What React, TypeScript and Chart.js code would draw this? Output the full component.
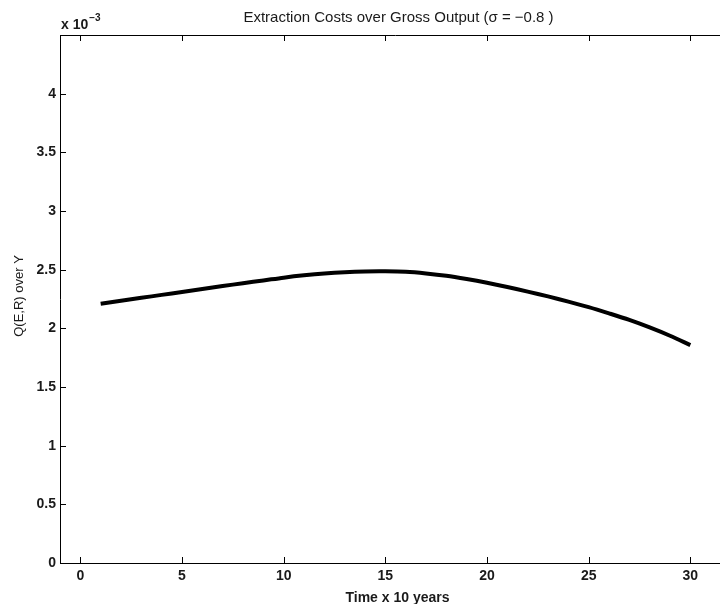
import React, { useEffect, useRef } from "react";
import { Chart, registerables } from "chart.js";

Chart.register(...registerables);

// ---- data ----
const timeSteps = [1, 2, 3, 4, 5, 6, 7, 8, 9, 10, 11, 12, 13, 14, 15, 16, 17, 18, 19, 20, 21, 22, 23, 24, 25, 26, 27, 28, 29, 30];
const costRatio = [
  2.21, 2.235, 2.26, 2.285, 2.31, 2.335, 2.36, 2.385, 2.408, 2.432,
  2.452, 2.468, 2.479, 2.485, 2.486, 2.482, 2.468, 2.448, 2.42, 2.388,
  2.352, 2.313, 2.272, 2.228, 2.181, 2.128, 2.072, 2.008, 1.937, 1.857,
];
const xTickValues = [0, 5, 10, 15, 20, 25, 30];
const yTickValues = [0, 0.5, 1, 1.5, 2, 2.5, 3, 3.5, 4, 4.5];
const yTickLabels = ["0", "0.5", "1", "1.5", "2", "2.5", "3", "3.5", "4", ""];
const titleText = "Extraction Costs over Gross Output (\u03c3 = \u22120.8 )";
const xLabel = "Time x 10 years";
const yLabel = "Q(E,R) over Y";

const FONT = "'Liberation Sans', Arial, Helvetica, sans-serif";
const TEXT = "#1a1a1a";

const decorPlugin = {
  id: "decor",
  afterDraw(chart: any) {
    const { ctx, chartArea: a, scales } = chart;
    const xs = scales.x;
    const ys = scales.y;
    ctx.save();
    ctx.strokeStyle = "#000";
    ctx.lineWidth = 1;
    ctx.beginPath();
    ctx.moveTo(a.left, Math.round(a.top) + 0.5);
    ctx.lineTo(a.right, Math.round(a.top) + 0.5);
    for (const v of xTickValues) {
      const px = Math.round(xs.getPixelForValue(v)) + 0.5;
      ctx.moveTo(px, a.bottom);
      ctx.lineTo(px, a.bottom - 6);
      ctx.moveTo(px, a.top);
      ctx.lineTo(px, a.top + 6);
    }
    for (const v of yTickValues) {
      const py = Math.round(ys.getPixelForValue(v)) + 0.5;
      ctx.moveTo(a.left, py);
      ctx.lineTo(a.left + 6, py);
    }
    ctx.stroke();

    ctx.fillStyle = TEXT;
    // title
    ctx.font = `15px ${FONT}`;
    ctx.textAlign = "center";
    ctx.textBaseline = "middle";
    ctx.fillText(titleText, (a.left + a.right) / 2 + 3, a.top - 17);
    // x label
    ctx.font = `bold 14px ${FONT}`;
    ctx.fillText(xLabel, (a.left + a.right) / 2 + 2, a.bottom + 35);
    // y label
    ctx.save();
    ctx.translate(a.left - 41, (a.top + a.bottom) / 2 - 3);
    ctx.rotate(-Math.PI / 2);
    ctx.font = `13px ${FONT}`;
    ctx.fillText(yLabel, 0, 0);
    ctx.restore();
    // exponent
    ctx.textAlign = "left";
    ctx.textBaseline = "alphabetic";
    ctx.font = `bold 14px ${FONT}`;
    ctx.fillText("x 10", a.left + 1, a.top - 6);
    const w = ctx.measureText("x 10").width;
    ctx.font = `bold 10px ${FONT}`;
    ctx.fillText("\u22123", a.left + w + 2, a.top - 14);
    ctx.restore();
  },
};

export default function App() {
  const ref = useRef<HTMLCanvasElement | null>(null);
  useEffect(() => {
    if (!ref.current) return;
    const points = timeSteps.map((t, i) => ({ x: t, y: costRatio[i] }));
    const chart = new Chart(ref.current, {
      type: "line",
      data: {
        datasets: [
          {
            data: points,
            borderColor: "#000",
            borderWidth: 4,
            pointRadius: 0,
            tension: 0.3,
            fill: false,
          },
        ],
      },
      options: {
        animation: false,
        responsive: false,
        devicePixelRatio: 1,
        layout: { padding: { top: 35, right: 29, left: 0, bottom: 0 } },
        plugins: { legend: { display: false }, tooltip: { enabled: false }, title: { display: false } },
        scales: {
          x: {
            type: "linear",
            min: -1,
            max: 32,
            afterBuildTicks: (s: any) => {
              s.ticks = xTickValues.map((v) => ({ value: v }));
            },
            afterFit: (s: any) => {
              s.height = 41;
            },
            grid: { display: false, drawTicks: false },
            border: { display: true, color: "#000", width: 1 },
            ticks: {
              padding: 5,
              maxRotation: 0,
              autoSkip: false,
              color: TEXT,
              font: { family: FONT, size: 14, weight: "bold" },
              callback: (v: any) => String(v),
            },
          },
          y: {
            type: "linear",
            min: 0,
            max: 4.5,
            afterBuildTicks: (s: any) => {
              s.ticks = yTickValues.map((v) => ({ value: v }));
            },
            afterFit: (s: any) => {
              s.width = 60;
            },
            grid: { display: false, drawTicks: false },
            border: { display: true, color: "#000", width: 1 },
            ticks: {
              padding: 4,
              autoSkip: false,
              color: TEXT,
              font: { family: FONT, size: 14, weight: "bold" },
              callback: (v: any) => {
                const i = yTickValues.indexOf(Number(v));
                return i >= 0 ? yTickLabels[i] : "";
              },
            },
          },
        },
      },
      plugins: [decorPlugin],
    });
    return () => chart.destroy();
  }, []);
  return (
    <div style={{ position: "fixed", left: 0, top: 0, width: 720, height: 604, overflow: "hidden", background: "#fff" }}>
      <canvas ref={ref} width={760} height={604} style={{ display: "block" }} />
    </div>
  );
}
